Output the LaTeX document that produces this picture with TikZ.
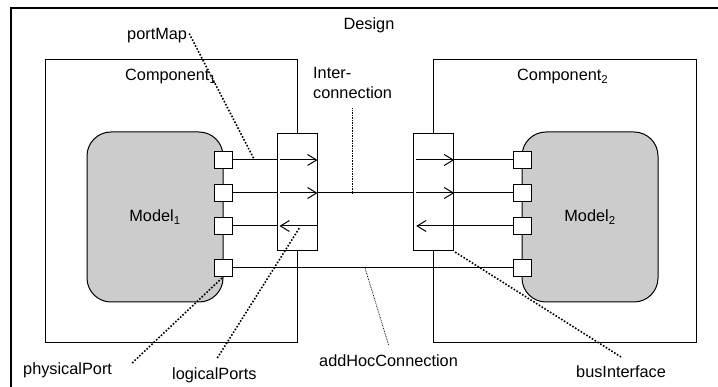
\documentclass[tikz,border=0pt]{standalone}
\usepackage{fontspec}
\setmainfont{Liberation Sans}
\usetikzlibrary{arrows.meta,calc}
\begin{document}
\begin{tikzpicture}[x=1pt,y=-1pt,
  lbl/.style={font=\fontsize{16.3}{19}\selectfont, inner sep=0pt, text=black},
  box/.style={draw, line width=1pt, inner sep=0pt},
  model/.style={box, fill=black!20, rounded corners=24pt, minimum width=136pt, minimum height=170pt, font=\fontsize{16.3}{19}\selectfont, text=black},
  port/.style={box, fill=white, minimum width=18pt, minimum height=17pt},
  bus/.style={box, fill=white, minimum width=40pt, minimum height=117pt},
  wire/.style={line width=1pt},
  arr/.style={-{Straight Barb[length=9pt,width=11pt,line width=1pt]}},
  dotthick/.style={line width=1.6pt, dash pattern=on 1.6pt off 1.7pt},
  dotfine/.style={line width=0.75pt, dash pattern=on 0.75pt off 0.9pt}]
\useasboundingbox (0,0) rectangle (718,387);
% outer frame (Design)
\draw[line width=1.2pt] (11,387) -- (11,8) -- (718,8);
\node[lbl, anchor=base] (lblDesign) at (369,30) {Design};
% components
\node[box, minimum width=252pt, minimum height=283pt] (comp1) at (171,201.5) {};
\node[box, minimum width=263pt, minimum height=283pt] (comp2) at (565,201.5) {};
\node[lbl, anchor=base west] (lblC1) at (125,81) {Component\textsubscript{1}};
\node[lbl, anchor=base west] (lblC2) at (517,81) {Component\textsubscript{2}};
% models
\node[model] (model1) at (155,217) {Model\textsubscript{1}};
\node[model] (model2) at (590,217) {Model\textsubscript{2}};
% bus interfaces
\node[bus] (bus1) at (297,192.5) {};
\node[bus] (bus2) at (433.7,192.5) {};
% ports
\foreach \i/\y in {1/160,2/193,3/226,4/268}{
  \node[port] (pl\i) at (223,\y) {};
  \node[port] (pr\i) at (522,\y) {};
}
% left side wires
\draw[wire] (pl1.east) -- (pl1 -| bus1.west);
\draw[wire,arr] ([xshift=3pt]pl1 -| bus1.west) -- (pl1 -| bus1.east);
\draw[wire] (pl2.east) -- (pl2 -| bus1.west);
\draw[wire,arr] ([xshift=3pt]pl2 -| bus1.west) -- (pl2 -| bus1.east);
\draw[wire] (pl3.east) -- (pl3 -| bus1.west);
\draw[wire,arr] (pl3 -| bus1.east) -- ([xshift=3pt]pl3 -| bus1.west);
% interconnection
\draw[wire] (pl2 -| bus1.east) -- (pl2 -| bus2.west);
% ad hoc connection
\draw[wire] (pl4.east) -- (pr4.west);
% right side wires
\draw[wire,arr] ([xshift=3pt]pr1 -| bus2.west) -- (pr1 -| bus2.east);
\draw[wire] (pr1 -| bus2.east) -- (pr1.west);
\draw[wire,arr] ([xshift=3pt]pr2 -| bus2.west) -- (pr2 -| bus2.east);
\draw[wire] (pr2 -| bus2.east) -- (pr2.west);
\draw[wire,arr] (pr3 -| bus2.east) -- ([xshift=3pt]pr3 -| bus2.west);
\draw[wire] (pr3 -| bus2.east) -- (pr3.west);
% labels
\node[lbl, anchor=base west] (lblPM) at (127,40) {portMap};
\node[lbl, anchor=base west] (lblIC1) at (313,79) {Inter-};
\node[lbl, anchor=base west] (lblIC2) at (313,99) {connection};
\node[lbl, anchor=base west] (lblPP) at (23,375) {physicalPort};
\node[lbl, anchor=base west] (lblLP) at (172,380) {logicalPorts};
\node[lbl, anchor=base west] (lblAH) at (319,366.7) {addHocConnection};
\node[lbl, anchor=base west] (lblBI) at (576,378) {busInterface};
\coordinate (pmEnd) at (254,159);
\coordinate (lpEnd) at (300,227);
\coordinate (ahEnd) at (365,268);
% annotation lines
\draw[dotthick] ([shift={(2pt,2.5pt)}]lblPM.east) -- (pmEnd);
\draw[dotthick] ([xshift=20pt]lblPP.north east) -- (pl4.south);
\draw[dotthick] ([shift={(3pt,10pt)}]lblLP.north) -- (lpEnd);
\draw[dotthick] ([yshift=9pt]lblBI.north) -- (bus2.south east);
\draw[dotfine] ([yshift=-9pt]lblIC2.south) -- (lblIC2.south |- pl2);
\draw[dotfine] ([yshift=10pt]lblAH.north) -- (ahEnd);
\end{tikzpicture}
\end{document}
